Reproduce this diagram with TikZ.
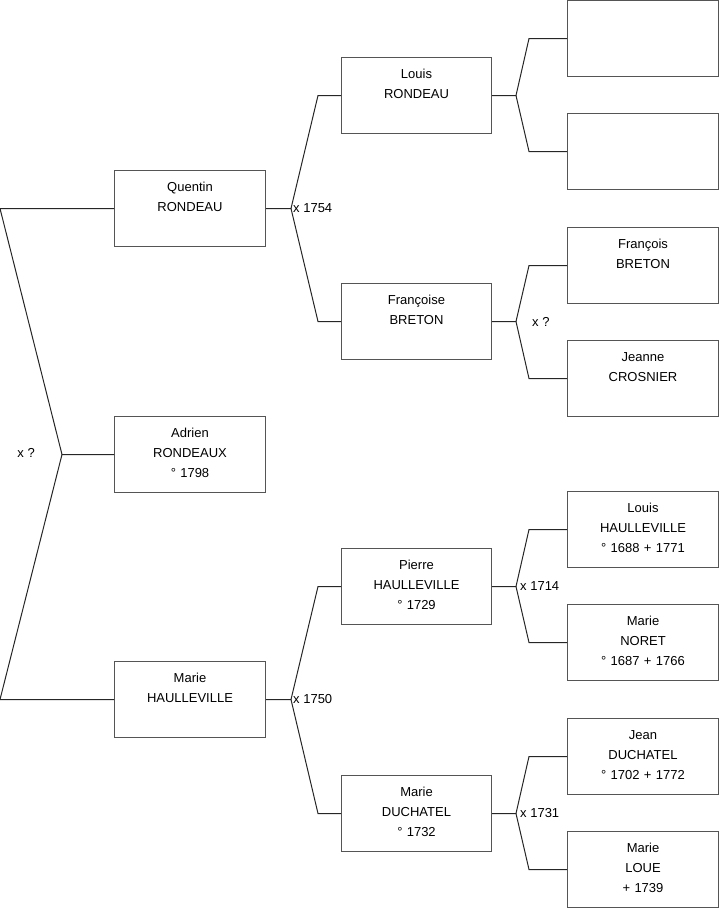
\documentclass[tikz,border=0pt]{standalone}
\usepackage{fontspec}
\setmainfont{Liberation Sans}
\usetikzlibrary{calc}
\definecolor{boxline}{HTML}{555555}

\begin{document}
\begin{tikzpicture}[x=1pt,y=-1pt,font=\fontsize{13}{20}\selectfont,
  person/.style={draw=boxline, line width=1pt, anchor=north west, inner sep=0pt,
    text width=151pt, minimum height=76pt, align=center, text height=20.5pt, text depth=55.5pt},
  link/.style={line width=1pt, black!85},
  wed/.style={inner sep=1pt}]
\useasboundingbox (0,0) rectangle (719,908);
% generation 1
\node[person] (arondeaux) at (114,416) {Adrien\\RONDEAUX\\° 1798};
% generation 2
\node[person] (qrondeau) at (114,170) {Quentin\\RONDEAU};
\node[person] (mhaulleville) at (114,661) {Marie\\HAULLEVILLE};
% generation 3
\begin{scope}[person/.append style={text width=150pt}]
\node[person] (lrondeau) at (341,57) {Louis\\RONDEAU};
\node[person] (fbreton) at (341,283) {Françoise\\BRETON};
\node[person] (phaulleville) at (341,548) {Pierre\\HAULLEVILLE\\° 1729};
\node[person] (mduchatel) at (341,775) {Marie\\DUCHATEL\\° 1732};
\end{scope}
% generation 4
\node[person] (unknown1) at (567,0) {};
\node[person] (unknown2) at (567,113) {};
\node[person] (fcbreton) at (567,227) {François\\BRETON};
\node[person] (jcrosnier) at (567,340) {Jeanne\\CROSNIER};
\node[person] (lhaulleville) at (567,491) {Louis\\HAULLEVILLE\\° 1688 + 1771};
\node[person] (mnoret) at (567,604) {Marie\\NORET\\° 1687 + 1766};
\node[person] (jduchatel) at (567,718) {Jean\\DUCHATEL\\° 1702 + 1772};
\node[person] (mloue) at (567,831) {Marie\\LOUE\\+ 1739};
% root bracket
\coordinate (root) at ([xshift=-52]arondeaux.west);
\draw[link] (arondeaux.west) -- (root) -- ([xshift=-114]qrondeau.west) -- (qrondeau.west);
\draw[link] (root) -- ([xshift=-114]mhaulleville.west) -- (mhaulleville.west);
\node[wed, anchor=east] (m0) at ([xshift=-26,yshift=2]root) {x ?};
% fork: child, father, mother, junction gap, kink gap
\def\fork#1#2#3#4#5{%
  \coordinate (#1-j) at ([xshift=#4]#1.east);
  \draw[link] (#1.east) -- (#1-j) -- ([xshift=-#5]#2.west) -- (#2.west);
  \draw[link] (#1-j) -- ([xshift=-#5]#3.west) -- (#3.west);}
\fork{qrondeau}{lrondeau}{fbreton}{25}{23}
\fork{mhaulleville}{phaulleville}{mduchatel}{25}{23}
\fork{lrondeau}{unknown1}{unknown2}{24}{38}
\fork{fbreton}{fcbreton}{jcrosnier}{24}{38}
\fork{phaulleville}{lhaulleville}{mnoret}{24}{38}
\fork{mduchatel}{jduchatel}{mloue}{24}{38}
% marriages
\node[wed, anchor=west] (m1754) at ([xshift=1]qrondeau-j) {x 1754};
\node[wed, anchor=west] (m1750) at ([xshift=1]mhaulleville-j) {x 1750};
\node[wed, anchor=west] (mfb) at ([xshift=15]fbreton-j) {x ?};
\node[wed, anchor=west] (m1714) at ([xshift=3]phaulleville-j) {x 1714};
\node[wed, anchor=west] (m1731) at ([xshift=3]mduchatel-j) {x 1731};
\end{tikzpicture}
\end{document}
